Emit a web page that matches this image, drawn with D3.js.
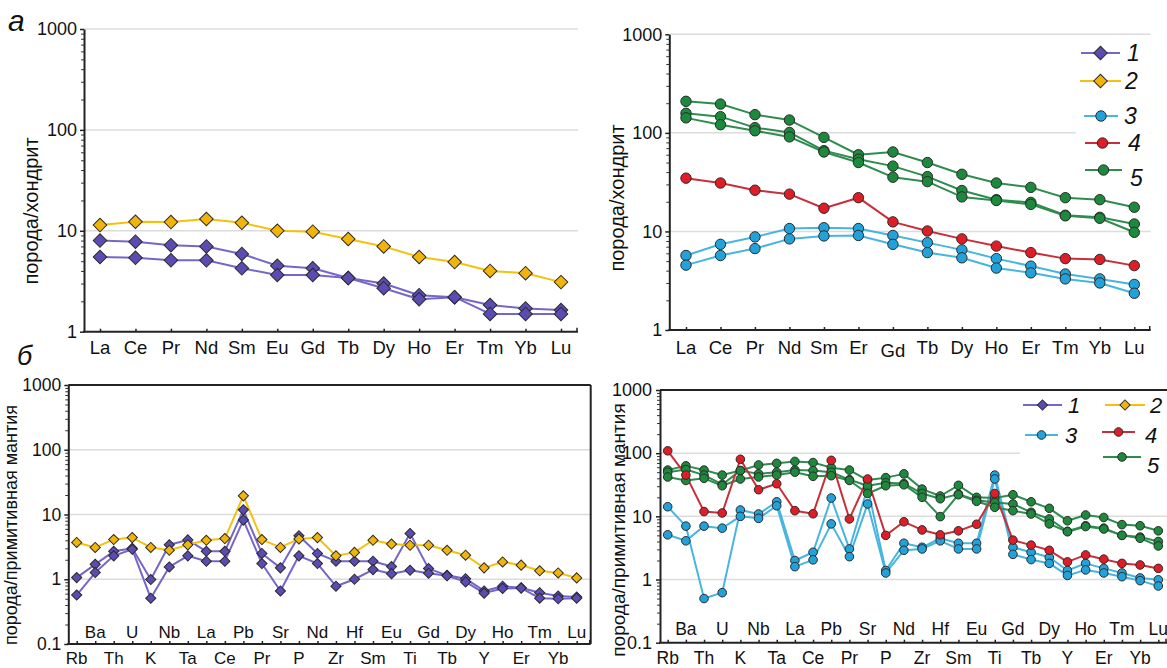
<!DOCTYPE html>
<html><head><meta charset="utf-8">
<script src="https://cdn.jsdelivr.net/npm/d3@7"></script>
<style>
body{margin:0;background:#fff;}
svg{display:block;font-family:"Liberation Sans",Arial,sans-serif;}
</style>
</head><body>
<svg id="c" width="1167" height="668"></svg>
<script>
// ---------- DATA ----------
const reeElements = ["La","Ce","Pr","Nd","Sm","Eu","Gd","Tb","Dy","Ho","Er","Tm","Yb","Lu"];
const reeLabelsLeft = ["La","Ce","Pr","Nd","Sm","Eu","Gd","Tb","Dy","Ho","Er","Tm","Yb","Lu"];
const reeLabelsRight = ["La","Ce","Pr","Nd","Sm","Er","Gd","Tb","Dy","Ho","Er","Tm","Yb","Lu"];
const spiderElements = ["Rb","Ba","Th","U","K","Nb","Ta","La","Ce","Pb","Pr","Sr","P","Nd","Zr","Hf","Sm","Eu","Ti","Gd","Tb","Dy","Y","Ho","Er","Tm","Yb","Lu"];
const chondriteTicks = [1,10,100,1000];
const mantleTicks = [0.1,1,10,100,1000];
const legendLabels = ["1","2","3","4","5"];

// panel а (left): groups 1 and 2
const reeG1a = [8.0,7.8,7.2,7.0,5.9,4.5,4.25,3.4,3.0,2.3,2.2,1.84,1.7,1.64];
const reeG1b = [5.5,5.4,5.1,5.1,4.25,3.65,3.65,3.4,2.7,2.1,2.2,1.5,1.5,1.5];
const reeG2  = [11.4,12.3,12.2,13.1,12.0,10.0,9.8,8.3,7.0,5.5,4.9,4.0,3.8,3.1];
// panel а (right): groups 3, 4, 5
const reeG3a = [5.7,7.4,8.8,10.7,10.9,10.7,9.1,7.7,6.5,5.3,4.45,3.7,3.3,2.9];
const reeG3b = [4.55,5.7,6.7,8.4,9.0,9.1,7.4,6.1,5.4,4.25,3.8,3.3,3.0,2.36];
const reeG4  = [34.7,31,26.2,23.9,17.2,22,12.5,10.1,8.4,7.1,6.1,5.3,5.2,4.5];
const reeG5a = [209,196,153,135,90,60,64,50,38,31,28,22,21,17.6];
const reeG5b = [158,146,113,101,66,54,46,36,26,21,19.7,14.6,13.9,11.9];
const reeG5c = [142,121,105,91,64,50,35.5,32,22.4,20.6,18.8,14.4,13.6,9.8];

// panel б (left): groups 1 and 2
const spG1a = [1.06,1.7,2.7,3.0,0.99,3.4,4.05,2.7,2.7,11.8,2.5,1.5,4.7,2.5,1.9,1.9,1.9,1.57,5.1,1.46,1.15,1.02,0.66,0.78,0.74,0.62,0.55,0.53];
const spG1b = [0.57,1.27,2.3,2.9,0.51,1.55,2.3,1.9,1.9,8.2,1.75,0.66,2.3,1.75,0.78,1.0,1.41,1.22,1.38,1.24,1.13,0.91,0.61,0.72,0.73,0.51,0.5,0.51];
const spG2  = [3.7,3.1,4.1,4.4,3.1,2.8,3.4,4.0,4.25,19.4,4.1,3.1,4.2,4.4,2.3,2.6,4.0,3.5,3.35,3.35,2.8,2.35,1.5,1.85,1.65,1.35,1.25,1.05];
// panel б (right): groups 3, 4, 5
const spG3a = [14.2,7.0,0.5,0.62,12.6,10.9,17,2.0,2.7,19.5,3.05,28.7,1.39,3.75,3.24,4.5,3.75,3.75,45,3.24,2.7,2.25,1.39,1.8,1.5,1.27,1.06,0.99];
const spG3b = [5.1,4.1,7.0,6.5,10,9.3,14.7,1.6,2.05,7.6,2.3,15.7,1.27,2.9,3.05,4.1,3.05,3.05,39,2.5,2.07,1.8,1.16,1.42,1.27,1.11,0.96,0.79];
const spG4  = [109,45,11.9,11.3,80,26.4,32.8,12.3,11,77,9.1,39,5.0,8.2,6.1,5.1,5.9,7.5,23,4.2,3.5,2.9,1.9,2.45,2.1,1.8,1.7,1.5];
const spG5a = [54,63,54,45,53,65,69,74,71,59,54,37.5,41,47,27,21,31,20,19.5,22,17,13.4,8.5,10.5,9.6,7.4,7.1,5.9];
const spG5b = [50,55,45,32,53,47,50,54,53,50,38,30.5,34,33,23,19,22.5,18,16.6,15.7,11.6,9.1,5.8,7.1,6.5,5.0,4.7,4.0];
const spG5c = [42,37,40,30.5,39,42,45,50,43,44,37,23,30.5,31.6,20,9.9,22,17.3,13.9,12.3,10.9,7.6,5.7,6.9,6.3,5.0,4.5,3.4];

// ---------- STYLES ----------
const STY = {
  g1:{line:"#7467c8", fill:"#5a4cb2", shape:"diamond"},
  g2:{line:"#f4c20d", fill:"#f2b40a", shape:"diamond"},
  g3:{line:"#47b5df", fill:"#22a2db", shape:"circle"},
  g4:{line:"#c7303a", fill:"#df1d26", shape:"circle"},
  g5:{line:"#2e8d4e", fill:"#1d893c", shape:"circle"}
};

const svg = d3.select("#c");

function marker(sel, shape, cx, cy, big, st){
  if(shape==="diamond"){
    const s = big ? 9.6 : 7.2;
    sel.append("path")
      .attr("d", d3.symbol(d3.symbolSquare, s*s)())
      .attr("transform",`translate(${cx},${cy}) rotate(45)`)
      .attr("fill", st.fill).attr("stroke","#2b2b2b").attr("stroke-width",1);
  } else {
    sel.append("circle").attr("cx",cx).attr("cy",cy).attr("r", big?5.2:4.3)
      .attr("fill", st.fill).attr("stroke","#2b2b2b").attr("stroke-width",1);
  }
}

function panel(o){
  const g = svg.append("g");
  const x = d3.scalePoint().domain(o.cats).range([o.xFirst, o.xLast]);
  const y = d3.scaleLog().domain(o.yDomain).range([o.yBottom, o.yTop]);

  // grid
  o.grid.forEach(v=>{
    g.append("line").attr("x1",o.axisX).attr("x2",o.gridRight||o.right)
      .attr("y1",y(v)).attr("y2",y(v)).attr("stroke","#dcdcdc").attr("stroke-width",1.5);
  });
  if(o.frame){
    g.append("line").attr("x1",o.axisX).attr("x2",o.right).attr("y1",o.yTop).attr("y2",o.yTop)
      .attr("stroke","#222").attr("stroke-width",2);
    if(o.rightFrame) g.append("line").attr("x1",o.right).attr("x2",o.right).attr("y1",o.yTop).attr("y2",o.yBottom)
      .attr("stroke","#222").attr("stroke-width",2);
  }

  // y axis
  const lo = Math.log10(o.yDomain[0]), hi = Math.log10(o.yDomain[1]);
  const minors = [];
  for(let k=lo;k<hi;k++) for(let m=2;m<=9;m++) minors.push(m*Math.pow(10,k));
  g.append("g").attr("transform",`translate(${o.axisX},0)`)
    .call(d3.axisLeft(y).tickValues(minors).tickSize(3).tickFormat(""))
    .call(s=>s.select(".domain").remove())
    .call(s=>s.selectAll("line").attr("stroke","#333").attr("stroke-width",1));
  const ya = g.append("g").attr("transform",`translate(${o.axisX},0)`)
    .call(d3.axisLeft(y).tickValues(o.ticks).tickSize(4).tickSizeOuter(0).tickPadding(o.tickPad||3)
      .tickFormat(d=>String(d)));
  ya.select(".domain").attr("stroke","#222").attr("stroke-width",2);
  ya.selectAll(".tick line").attr("stroke","#222").attr("stroke-width",1.5);
  ya.selectAll("text").attr("font-size",o.tickFont).attr("fill","#111").attr("font-family","Liberation Sans, Arial, sans-serif");

  // x axis
  const xa = g.append("g").attr("transform",`translate(0,${o.yBottom})`)
    .call(d3.axisBottom(x).tickSizeInner(-3).tickSizeOuter(0).tickFormat(""));
  xa.select(".domain").remove();
  xa.selectAll(".tick line").attr("stroke","#222").attr("stroke-width",1.5);
  g.append("line").attr("x1",o.axisX-1).attr("x2",o.right).attr("y1",o.yBottom).attr("y2",o.yBottom)
    .attr("stroke","#222").attr("stroke-width",2);
  g.append("line").attr("x1",o.right-1).attr("x2",o.right-1).attr("y1",o.yBottom).attr("y2",o.yBottom-4)
    .attr("stroke","#222").attr("stroke-width",1.5);

  // x labels
  o.cats.forEach((c,i)=>{
    let yy = o.labelY, lab = o.labels[i];
    if(o.twoRow) yy = (i%2===0) ? o.labelYLow : o.labelYUp;
    if(o.labelShift && o.labelShift[i]) yy += o.labelShift[i];
    g.append("text").attr("x",x(c)).attr("y",yy).attr("text-anchor","middle")
      .attr("font-size",o.labelFont).attr("fill","#111").text(lab);
  });

  // title
  g.append("text").attr("transform",`translate(${o.titleX},${o.titleY}) rotate(-90)`)
    .attr("text-anchor","middle").attr("font-size",o.titleFont).attr("fill","#111").text(o.title);

  // legend box background (drawn before series)
  if(o.legendBox){
    g.append("rect").attr("x",o.legendBox[0]).attr("y",o.legendBox[1])
      .attr("width",o.legendBox[2]).attr("height",o.legendBox[3]).attr("fill","#fff");
  }

  // series
  const line = d3.line().x((d,i)=>x(o.cats[i])).y(d=>y(d));
  o.series.forEach(s=>{
    const st = STY[s.g];
    g.append("path").datum(s.v).attr("d",line).attr("fill","none")
      .attr("stroke",st.line).attr("stroke-width",2).attr("stroke-linejoin","round");
  });
  o.series.forEach(s=>{
    const st = STY[s.g];
    s.v.forEach((v,i)=>marker(g, st.shape, x(o.cats[i]), y(v), o.big, st));
  });
  return g;
}

function legend(items, big, font){
  items.forEach(it=>{
    const st = STY[it.g];
    svg.append("line").attr("x1",it.x1).attr("x2",it.x2).attr("y1",it.y).attr("y2",it.y)
      .attr("stroke",st.line).attr("stroke-width",2.2);
    marker(svg, st.shape, (it.x1+it.x2)/2, it.y, big, st);
    svg.append("text").attr("x",it.tx).attr("y",it.ty).attr("font-size",font)
      .attr("font-style","italic").attr("fill","#111").text(it.label);
  });
}

// ---------- PANEL а left ----------
panel({
  cats: reeElements, labels: reeLabelsLeft,
  axisX:84, right:578, xFirst:100, xLast:561,
  yDomain:[1,1000], yBottom:331.7, yTop:29, ticks:chondriteTicks, grid:[10,100,1000],
  tickFont:18, labelFont:18.5, labelY:354, tickPad:3,
  title:"порода/хондрит", titleX:38, titleY:211, titleFont:20,
  big:true,
  series:[{g:"g1",v:reeG1a},{g:"g1",v:reeG1b},{g:"g2",v:reeG2}]
});

// ---------- PANEL а right ----------
panel({
  cats: reeElements, labels: reeLabelsRight,
  axisX:669.3, right:1150.7, xFirst:686, xLast:1134.3,
  yDomain:[1,1000], yBottom:330, yTop:34.3, ticks:chondriteTicks, grid:[10,100,1000],
  gridRight:1150.7,
  tickFont:18, labelFont:18.5, labelY:354, labelShift:{6:3}, tickPad:3,
  title:"порода/хондрит", titleX:624, titleY:198, titleFont:20,
  big:true,
  legendBox:[1076,40,74,150],
  series:[{g:"g3",v:reeG3a},{g:"g3",v:reeG3b},{g:"g4",v:reeG4},{g:"g5",v:reeG5a},{g:"g5",v:reeG5b},{g:"g5",v:reeG5c}]
});
legend([
  {g:"g1",x1:1081,x2:1120,y:53,tx:1127,ty:61,label:legendLabels[0]},
  {g:"g2",x1:1080,x2:1121,y:81,tx:1125,ty:89,label:legendLabels[1]},
  {g:"g3",x1:1084,x2:1118,y:116,tx:1124,ty:124,label:legendLabels[2]},
  {g:"g4",x1:1085,x2:1120,y:143,tx:1128,ty:151,label:legendLabels[3]},
  {g:"g5",x1:1085,x2:1122,y:170,tx:1130,ty:186,label:legendLabels[4]}
], true, 23);

// ---------- PANEL б left ----------
panel({
  cats: spiderElements, labels: spiderElements,
  axisX:68.3, right:590.7, xFirst:76.7, xLast:576.7,
  yDomain:[0.1,1000], yBottom:644, yTop:385, ticks:mantleTicks, grid:[1,10,100],
  frame:true, rightFrame:true,
  tickFont:17.5, labelFont:17, twoRow:true, labelYLow:664, labelYUp:637.5, tickPad:3,
  title:"порода/примитивная мантия", titleX:17, titleY:525, titleFont:18,
  big:false,
  series:[{g:"g1",v:spG1a},{g:"g1",v:spG1b},{g:"g2",v:spG2}]
});

// ---------- PANEL б right ----------
panel({
  cats: spiderElements, labels: spiderElements,
  axisX:660, right:1167, xFirst:667.7, xLast:1158.3,
  yDomain:[0.1,1000], yBottom:642.7, yTop:390, ticks:mantleTicks, grid:[1,10,100],
  frame:true, rightFrame:false,
  tickFont:18, labelFont:17.5, twoRow:true, labelYLow:664, labelYUp:634.5, tickPad:4,
  title:"порода/примитивная мантия", titleX:625, titleY:530, titleFont:19,
  big:false,
  legendBox:[1020,392,147,80],
  series:[{g:"g3",v:spG3a},{g:"g3",v:spG3b},{g:"g5",v:spG5a},{g:"g5",v:spG5b},{g:"g5",v:spG5c},{g:"g4",v:spG4}]
});
legend([
  {g:"g1",x1:1023,x2:1062,y:405,tx:1068,ty:413,label:legendLabels[0]},
  {g:"g2",x1:1105,x2:1145,y:405,tx:1150,ty:413,label:legendLabels[1]},
  {g:"g3",x1:1025,x2:1058,y:435,tx:1065,ty:443,label:legendLabels[2]},
  {g:"g4",x1:1102,x2:1135,y:432,tx:1145,ty:443,label:legendLabels[3]},
  {g:"g5",x1:1103,x2:1141,y:457,tx:1147,ty:473,label:legendLabels[4]}
], false, 22);

// panel letters
svg.append("text").attr("x",8).attr("y",31).attr("font-size",30).attr("font-style","italic").attr("fill","#111").text("а");
svg.append("text").attr("x",17).attr("y",365).attr("font-size",27).attr("font-style","italic").attr("fill","#111").text("б");
</script>
</body></html>
